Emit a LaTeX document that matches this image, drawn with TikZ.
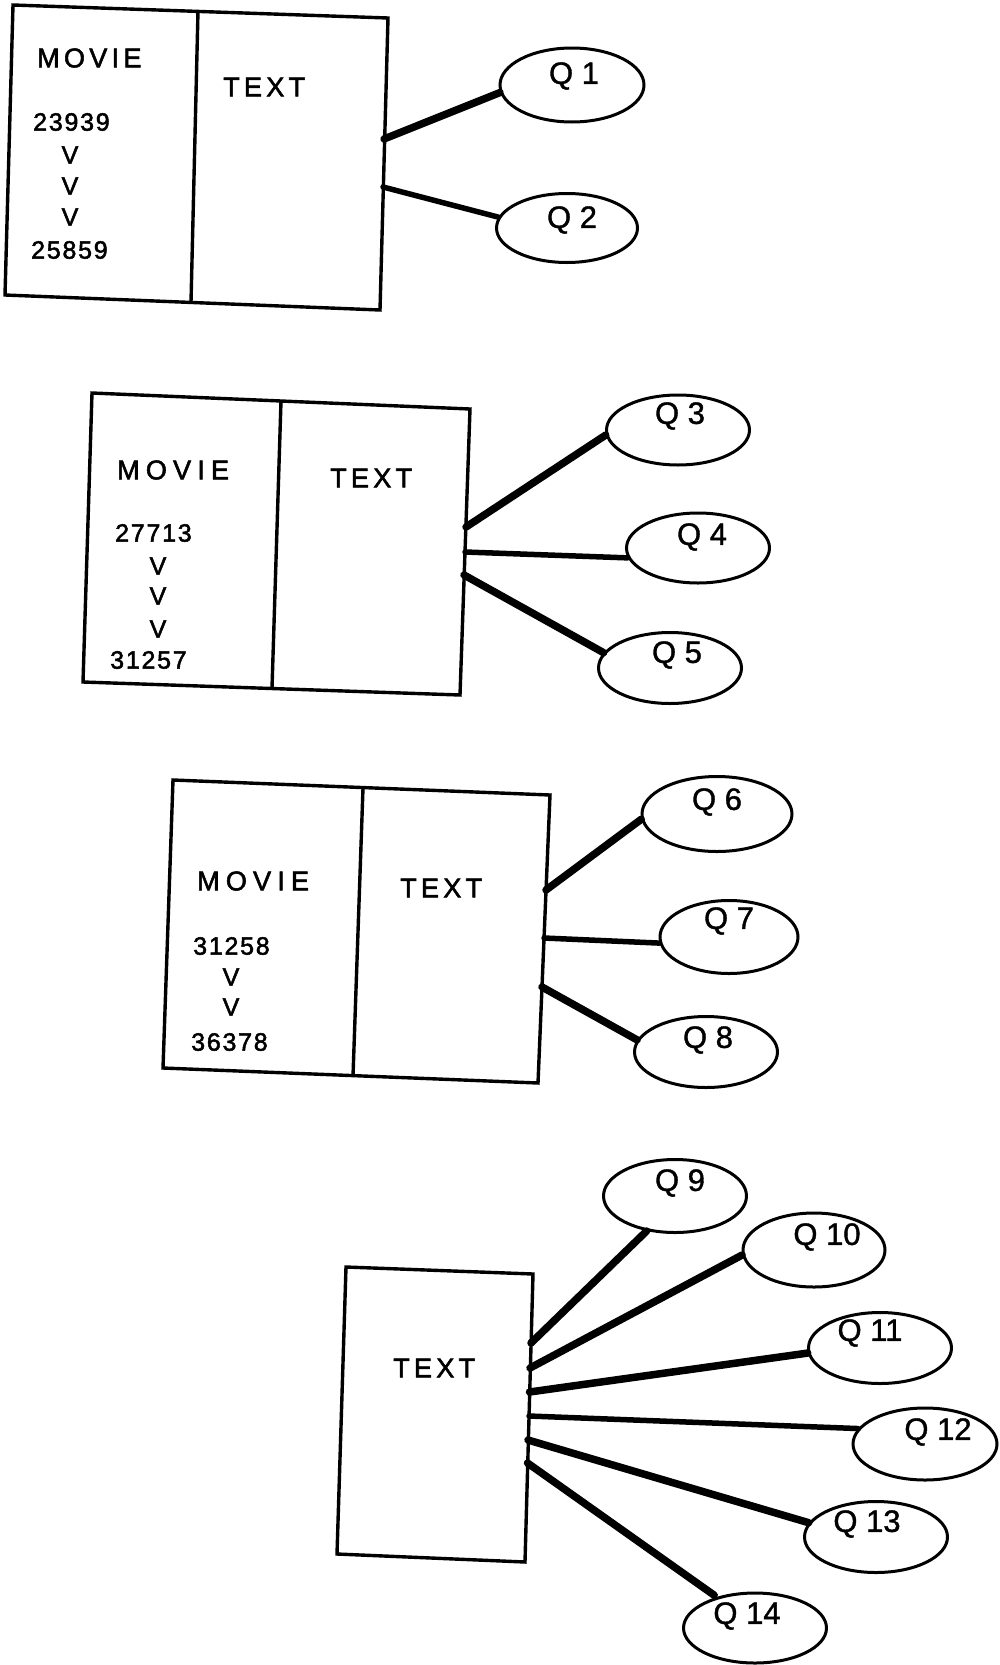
\documentclass[tikz,border=0pt]{standalone}
\usepackage{fontspec}
\setmainfont{Liberation Sans}
\newfontfamily\lblfont[LetterSpace=16,FakeBold=2]{Liberation Sans}
\newfontfamily\lblwidefont[LetterSpace=23,FakeBold=2]{Liberation Sans}
\newfontfamily\numfont[LetterSpace=7,FakeBold=2]{Liberation Sans}
\newfontfamily\qfont[FakeBold=1.2]{Liberation Sans}
\usetikzlibrary{shapes.geometric}
\begin{document}
\begin{tikzpicture}[x=1pt,y=-1pt,
  boxline/.style={line width=3.4pt, line join=miter},
  divline/.style={line width=3.4pt},
  lbl/.style={anchor=west, inner sep=0pt, font=\lblfont\fontsize{27}{27}\selectfont},
  lblwide/.style={anchor=west, inner sep=0pt, font=\lblwidefont\fontsize{27}{27}\selectfont},
  num/.style={anchor=west, inner sep=0pt, font=\numfont\fontsize{25}{25}\selectfont},
  vee/.style={inner sep=0pt, font=\numfont\fontsize{25}{25}\selectfont},
  qell/.style={ellipse, draw, line width=3pt, inner sep=0pt},
  qlab/.style={inner sep=0pt, font=\qfont\fontsize{31}{31}\selectfont},
  conn/.style={line width=7.5pt, line cap=round},
  connthin/.style={line width=5.5pt, line cap=round}]
\useasboundingbox (0,0) rectangle (999,1665);

% ---------- Box 1 ----------
\coordinate (b1tl) at (13,5);
\coordinate (b1tr) at (388,18);
\coordinate (b1br) at (380,310);
\coordinate (b1bl) at (5,295);
\coordinate (b1dt) at (198,11);
\coordinate (b1db) at (191,302);
\draw[boxline] (b1tl) -- (b1tr) -- (b1br) -- (b1bl) -- cycle;
\draw[divline] (b1dt) -- (b1db);
\node[lbl] (m1) at (37,58) {MOVIE};
\node[num] (n1a) at (33,122) {23939};
\node[vee] (v1a) at (70,155) {V};
\node[vee] (v1b) at (70,186) {V};
\node[vee] (v1c) at (70,217) {V};
\node[num] (n1b) at (31,250) {25859};
\node[lbl] (t1) at (223,87) {TEXT};
\coordinate (c1a) at (384,139);
\coordinate (c1b) at (383,187);

% ---------- Box 2 ----------
\coordinate (b2tl) at (92,393);
\coordinate (b2tr) at (470,409);
\coordinate (b2br) at (460,695);
\coordinate (b2bl) at (83,682);
\coordinate (b2dt) at (281,401);
\coordinate (b2db) at (272,688);
\draw[boxline] (b2tl) -- (b2tr) -- (b2br) -- (b2bl) -- cycle;
\draw[divline] (b2dt) -- (b2db);
\node[lblwide] (m2) at (117,470) {MOVIE};
\node[num] (n2a) at (115,533) {27713};
\node[vee] (v2a) at (158,566) {V};
\node[vee] (v2b) at (158,596) {V};
\node[vee] (v2c) at (158,629) {V};
\node[num] (n2b) at (110,660) {31257};
\node[lbl] (t2) at (330,478) {TEXT};
\coordinate (c2a) at (466,527);
\coordinate (c2b) at (465,552);
\coordinate (c2c) at (464,575);

% ---------- Box 3 ----------
\coordinate (b3tl) at (173,780);
\coordinate (b3tr) at (550,795);
\coordinate (b3br) at (538,1083);
\coordinate (b3bl) at (163,1068);
\coordinate (b3dt) at (363,788);
\coordinate (b3db) at (353,1076);
\draw[boxline] (b3tl) -- (b3tr) -- (b3br) -- (b3bl) -- cycle;
\draw[divline] (b3dt) -- (b3db);
\node[lblwide] (m3) at (197,881) {MOVIE};
\node[num] (n3a) at (193,946) {31258};
\node[vee] (v3a) at (231,977) {V};
\node[vee] (v3b) at (231,1007) {V};
\node[num] (n3b) at (191,1042) {36378};
\node[lbl] (t3) at (400,888) {TEXT};
\coordinate (c3a) at (546,890);
\coordinate (c3b) at (544,938);
\coordinate (c3c) at (542,987);

% ---------- Box 4 ----------
\coordinate (b4tl) at (346,1267);
\coordinate (b4tr) at (533,1274);
\coordinate (b4br) at (525,1562);
\coordinate (b4bl) at (337,1554);
\draw[boxline] (b4tl) -- (b4tr) -- (b4br) -- (b4bl) -- cycle;
\node[lbl] (t4) at (393,1368) {TEXT};
\coordinate (c4a) at (531,1343);
\coordinate (c4b) at (530,1368);
\coordinate (c4c) at (529.5,1392);
\coordinate (c4d) at (529,1416);
\coordinate (c4e) at (528,1440);
\coordinate (c4f) at (527.5,1463);

% ---------- Ellipses ----------
\node[qell, minimum width=144pt, minimum height=74pt] (q1) at (572,85) {};
\node[qell, minimum width=141pt, minimum height=69pt] (q2) at (567,228) {};
\node[qell, minimum width=143pt, minimum height=70pt] (q3) at (678,430) {};
\node[qell, minimum width=143pt, minimum height=70pt] (q4) at (698,548) {};
\node[qell, minimum width=143pt, minimum height=71pt] (q5) at (670,668) {};
\node[qell, minimum width=150pt, minimum height=75pt] (q6) at (717,814) {};
\node[qell, minimum width=138pt, minimum height=73pt] (q7) at (729,937) {};
\node[qell, minimum width=143pt, minimum height=71pt] (q8) at (706,1052) {};
\node[qell, minimum width=143pt, minimum height=73pt] (q9) at (675,1196) {};
\node[qell, minimum width=142pt, minimum height=74pt] (q10) at (814,1250) {};
\node[qell, minimum width=143pt, minimum height=71pt] (q11) at (880,1348) {};
\node[qell, minimum width=144pt, minimum height=72pt] (q12) at (925,1444) {};
\node[qell, minimum width=143pt, minimum height=71pt] (q13) at (876,1537) {};
\node[qell, minimum width=143pt, minimum height=70pt] (q14) at (755,1628) {};

\node[qlab] (q1t) at (574,76) {Q 1};
\node[qlab] (q2t) at (572,220) {Q 2};
\node[qlab] (q3t) at (680,416) {Q 3};
\node[qlab] (q4t) at (702,537) {Q 4};
\node[qlab] (q5t) at (677,655) {Q 5};
\node[qlab] (q6t) at (717,802) {Q 6};
\node[qlab] (q7t) at (729,921) {Q 7};
\node[qlab] (q8t) at (708,1040) {Q 8};
\node[qlab] (q9t) at (680,1183) {Q 9};
\node[qlab] (q10t) at (827,1237) {Q 10};
\node[qlab] (q11t) at (870,1333) {Q 11};
\node[qlab] (q12t) at (938,1432) {Q 12};
\node[qlab] (q13t) at (867,1524) {Q 13};
\node[qlab] (q14t) at (747,1616) {Q 14};

% ---------- Connectors ----------
\draw[conn] (c1a) -- (q1.186.6);
\draw[connthin] (c1b) -- (q2.171);
\draw[conn] (c2a) -- (q3.184);
\draw[connthin] (c2b) -- (q4.188);
\draw[conn] (c2c) -- (q5.167.6);
\draw[conn] (c3a) -- (q6.184.6);
\draw[connthin] (c3b) -- (q7.185);
\draw[conn] (c3c) -- (q8.170);
\draw[conn] (c4a) -- (q9.231.5);
\draw[conn] (c4b) -- (q10.184.8);
\draw[conn] (c4c) -- (q11.184.2);
\draw[connthin] (c4d) -- (q12.167.6);
\draw[conn] (c4e) -- (q13.168.4);
\draw[conn, shorten >=3pt] (c4f) -- (q14.141);
\end{tikzpicture}
\end{document}
